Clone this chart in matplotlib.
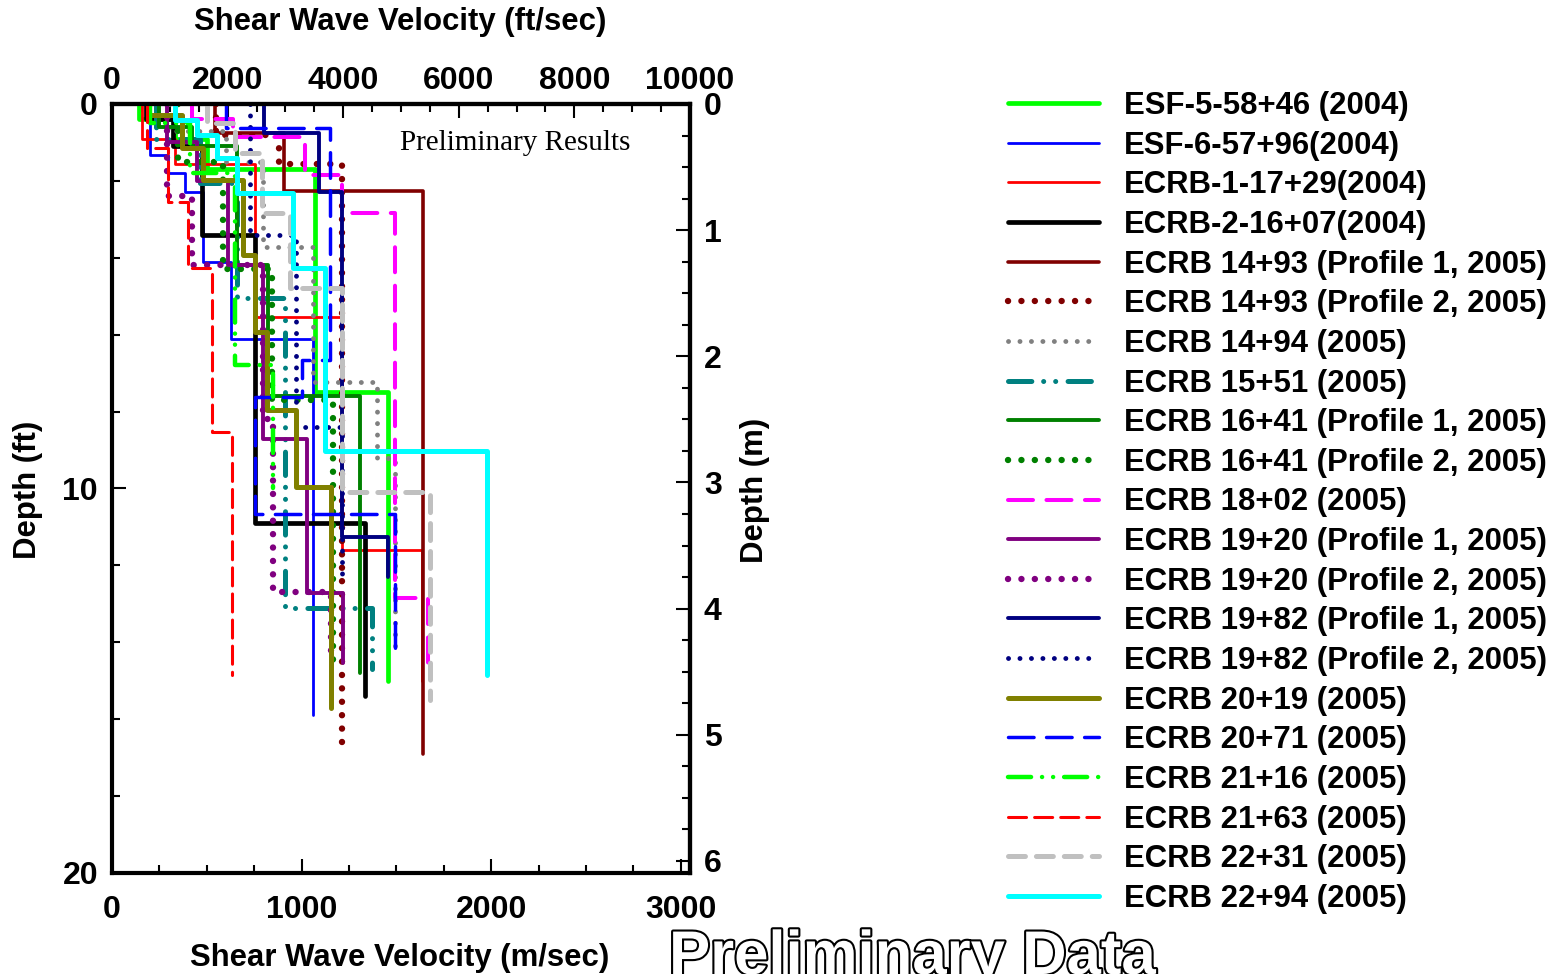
import matplotlib
matplotlib.use("Agg")
import matplotlib.pyplot as plt
import matplotlib.patheffects as pe
from matplotlib.ticker import MultipleLocator
import numpy as np

plt.rcParams['font.family'] = ['Liberation Sans', 'DejaVu Sans']
plt.rcParams['font.weight'] = 'bold'
plt.rcParams['lines.scale_dashes'] = False

# --- data: layer velocity (m/sec) and layer bottom depth (ft), top layer starts at 0 ft
labels = [
    "ESF-5-58+46 (2004)", "ESF-6-57+96(2004)", "ECRB-1-17+29(2004)", "ECRB-2-16+07(2004)",
    "ECRB 14+93 (Profile 1, 2005)", "ECRB 14+93 (Profile 2, 2005)", "ECRB 14+94 (2005)",
    "ECRB 15+51 (2005)", "ECRB 16+41 (Profile 1, 2005)", "ECRB 16+41 (Profile 2, 2005)",
    "ECRB 18+02 (2005)", "ECRB 19+20 (Profile 1, 2005)", "ECRB 19+20 (Profile 2, 2005)",
    "ECRB 19+82 (Profile 1, 2005)", "ECRB 19+82 (Profile 2, 2005)", "ECRB 20+19 (2005)",
    "ECRB 20+71 (2005)", "ECRB 21+16 (2005)", "ECRB 21+63 (2005)", "ECRB 22+31 (2005)",
    "ECRB 22+94 (2005)",
]

esf5_v = [140, 330, 500, 1070, 1455]
esf5_d = [0.4, 0.9, 1.7, 7.5, 15.0]
esf6_v = [200, 295, 385, 480, 630, 1060]
esf6_d = [1.33, 1.8, 2.3, 4.1, 6.1, 15.9]
ecrb1_v = [160, 330, 755, 1213, 1635]
ecrb1_d = [0.9, 1.55, 5.55, 11.6, 15.0]
ecrb2_v = [180, 320, 475, 755, 1335]
ecrb2_d = [0.4, 1.1, 3.4, 10.9, 15.4]
e1493a_v = [543, 907, 1640]
e1493a_d = [0.75, 2.25, 16.9]
e1493b_v = [550, 880, 1215]
e1493b_d = [0.8, 1.55, 16.9]
e1494_v = [300, 600, 795, 1060, 1400, 1490]
e1494_d = [0.7, 1.5, 3.72, 7.23, 9.2, 14.3]
e1551_v = [230, 464, 659, 912, 1371]
e1551_d = [0.9, 2.05, 5.05, 13.1, 14.7]
e1641a_v = [250, 420, 659, 822, 1308]
e1641a_d = [0.6, 1.1, 4.2, 7.6, 14.8]
e1641b_v = [350, 585, 844, 1165]
e1641b_d = [1.5, 4.3, 7.7, 14.7]
e1802_v = [420, 640, 1018, 1213, 1492, 1666]
e1802_d = [0.4, 0.86, 1.85, 2.83, 12.85, 14.85]
e1920a_v = [290, 450, 612, 796, 1028, 1218]
e1920a_d = [1.0, 2.0, 4.19, 8.71, 12.72, 14.54]
e1920b_v = [290, 420, 796, 849, 1155]
e1920b_d = [2.4, 4.2, 8.2, 12.7, 14.4]
e1982a_v = [801, 1092, 1213, 1455]
e1982a_d = [0.75, 2.29, 11.26, 12.3]
e1982b_v = [728, 970, 1213]
e1982b_d = [3.4, 8.4, 12.3]
e2019_v = [190, 369, 480, 691, 754, 817, 970, 1155]
e2019_d = [0.29, 1.14, 1.98, 3.93, 5.93, 7.96, 9.96, 15.7]
e2071_v = [600, 1150, 1002, 754, 1492]
e2071_d = [0.62, 6.66, 7.62, 10.66, 14.33]
e2116_v = [200, 411, 648, 849]
e2116_d = [0.5, 1.8, 6.8, 10.0]
e2163_v = [185, 295, 401, 527, 633]
e2163_d = [1.14, 2.55, 4.27, 8.53, 14.85]
e2231_v = [500, 650, 791, 939, 1213, 1677]
e2231_d = [0.5, 1.27, 2.83, 4.78, 10.1, 15.5]
e2294_v = [332, 448, 554, 659, 955, 1123, 1977]
e2294_d = [0.42, 0.81, 1.40, 2.31, 4.27, 9.02, 14.85]

profiles = [
    (esf5_v, esf5_d), (esf6_v, esf6_d), (ecrb1_v, ecrb1_d), (ecrb2_v, ecrb2_d),
    (e1493a_v, e1493a_d), (e1493b_v, e1493b_d), (e1494_v, e1494_d), (e1551_v, e1551_d),
    (e1641a_v, e1641a_d), (e1641b_v, e1641b_d), (e1802_v, e1802_d), (e1920a_v, e1920a_d),
    (e1920b_v, e1920b_d), (e1982a_v, e1982a_d), (e1982b_v, e1982b_d), (e2019_v, e2019_d),
    (e2071_v, e2071_d), (e2116_v, e2116_d), (e2163_v, e2163_d), (e2231_v, e2231_d),
    (e2294_v, e2294_d),
]

# colour, linewidth (pt), dash pattern (pt) or None
styles = [
    ('#00FF00', 3.4, None),
    ('#0000FF', 2.0, None),
    ('#FF0000', 2.0, None),
    ('#000000', 3.4, None),
    ('#800000', 2.6, None),
    ('#800000', 4.6, (0, (0.05, 9.6))),
    ('#808080', 3.5, (0, (0.05, 8.2))),
    ('#008080', 3.6, (0, (16.8, 8.5, 0.05, 8.6, 0.05, 8.9))),
    ('#008000', 2.8, None),
    ('#008000', 4.6, (0, (0.05, 9.6))),
    ('#FF00FF', 2.9, (0, (18, 9.7))),
    ('#800080', 2.8, None),
    ('#800080', 4.6, (0, (0.05, 9.6))),
    ('#000080', 2.8, None),
    ('#000080', 3.5, (0, (0.05, 8.2))),
    ('#808000', 3.6, None),
    ('#0000FF', 2.5, (0, (18.4, 9))),
    ('#00FF00', 3.2, (0, (16.6, 7.9, 0.05, 7.9, 0.05, 7.9))),
    ('#FF0000', 2.2, (0, (13, 5.8))),
    ('#C0C0C0', 3.6, (0, (12.2, 7.9))),
    ('#00FFFF', 3.6, None),
]

fig = plt.figure(figsize=(15.53, 9.74), dpi=100)
ax = fig.add_axes([0.07212, 0.10370, 0.37218, 0.78953])

handles = []
for (v, d), (c, lw, ls), lab in zip(profiles, styles, labels):
    tops = [0.0] + list(d[:-1])
    x = np.repeat(v, 2)
    y = np.ravel(np.column_stack([tops, d]))
    kw = dict(color=c, lw=lw, solid_capstyle='round', dash_capstyle='round', label=lab)
    if ls is not None:
        kw['linestyle'] = ls
    h, = ax.plot(x, y, **kw)
    handles.append(h)

ax.set_xlim(0, 10000 * 0.3048)
ax.set_ylim(20, 0)

TICK_FS = 23

ax.xaxis.set_major_locator(MultipleLocator(1000))
ax.xaxis.set_minor_locator(MultipleLocator(250))
ax.yaxis.set_major_locator(MultipleLocator(10))
ax.yaxis.set_minor_locator(MultipleLocator(2))
ax.tick_params(axis='x', which='both', direction='in', labelsize=TICK_FS, pad=16)
ax.tick_params(axis='y', which='both', direction='in', labelsize=TICK_FS, pad=10)
ax.tick_params(which='major', length=10, width=1.5)
ax.tick_params(which='minor', length=6, width=1.5)
for s in ax.spines.values():
    s.set_linewidth(3)

top = ax.secondary_xaxis('top', functions=(lambda m: m / 0.3048, lambda f: f * 0.3048))
top.xaxis.set_major_locator(MultipleLocator(2000))
top.xaxis.set_minor_locator(MultipleLocator(500))
top.tick_params(which='both', direction='in', labelsize=TICK_FS, pad=6)
top.tick_params(which='major', length=10, width=1.5)
top.tick_params(which='minor', length=6, width=1.5)
top.spines['top'].set_linewidth(3)

right = ax.secondary_yaxis('right', functions=(lambda f: f * 0.3048, lambda m: m / 0.3048))
right.yaxis.set_major_locator(MultipleLocator(1))
right.yaxis.set_minor_locator(MultipleLocator(0.25))
right.tick_params(which='both', direction='in', labelsize=TICK_FS, pad=10)
right.tick_params(which='major', length=10, width=1.5)
right.tick_params(which='minor', length=6, width=1.5)
right.spines['right'].set_linewidth(3)

# axis titles
fig.text(400 / 1553, 1 - 22 / 974, "Shear Wave Velocity (ft/sec)", ha='center', va='center', fontsize=22.4)
fig.text(400 / 1553, 1 - 958 / 974, "Shear Wave Velocity (m/sec)", ha='center', va='center', fontsize=22.4)
fig.text(28 / 1553, 1 - 490 / 974, "Depth (ft)", ha='center', va='center', rotation=90, fontsize=22.4)
fig.text(755 / 1553, 1 - 490 / 974, "Depth (m)", ha='center', va='center', rotation=90, fontsize=22.4)

ax.text(400 / 1553, 1 - 143 / 974, "Preliminary Results", transform=fig.transFigure,
        family='Liberation Serif', weight='normal', fontsize=21, ha='left', va='center')

fig.text(669 / 1553, 0.0, "Preliminary Data", fontsize=44.4, color='white', ha='left', va='baseline',
         path_effects=[pe.withStroke(linewidth=3, foreground='black')])

ax.legend(handles=handles, loc='upper left', bbox_to_anchor=(1007.5 / 1553, 1 - 91 / 974),
          bbox_transform=fig.transFigure, frameon=False, fontsize=22.4,
          handlelength=2.95, handletextpad=0.8, labelspacing=0.31, borderpad=0, borderaxespad=0)

fig.savefig("out.png", dpi=100)
